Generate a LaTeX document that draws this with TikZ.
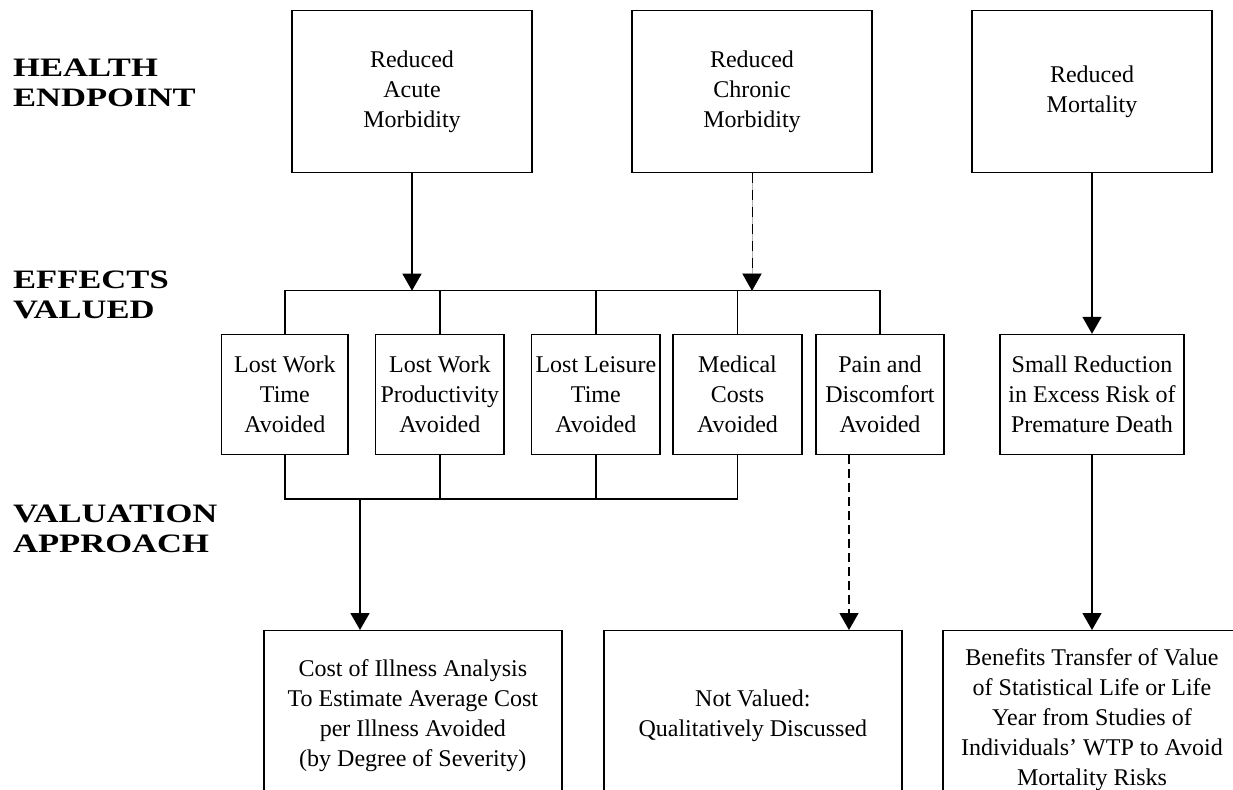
\documentclass[tikz,border=0pt]{standalone}
\usepackage{fontspec}
\setmainfont{Liberation Serif}
\usetikzlibrary{arrows.meta}
\begin{document}
\begin{tikzpicture}[x=0.5pt,y=-0.5pt,
  box/.style={draw, line width=0.7pt, inner sep=0pt, align=center, font=\fontsize{12}{15}\selectfont},
  topbox/.style={box, minimum width=120pt, minimum height=81pt},
  effbox/.style={box, minimum height=60.1pt},
  valbox/.style={box, minimum width=149pt, minimum height=85pt},
  lbl/.style={anchor=base west, inner sep=0pt, font=\fontsize{13.3}{15}\selectfont\bfseries},
  conn/.style={line width=0.7pt},
  arr/.style={conn, -{Triangle[length=8.5pt,width=9.5pt]}},
  darr/.style={arr, dash pattern=on 4.5pt off 2.5pt},
  farr/.style={line width=0.45pt, -{Triangle[length=8.5pt,width=9.5pt]}, dash pattern=on 5pt off 3.5pt,
               preaction={draw=black!30, solid, line width=0.45pt}}
]
\useasboundingbox (0,0) rectangle (1233,789);
\clip (0,0) rectangle (1233,789);
\fill[white] (0,0) rectangle (1233,789);

% row labels
\node[lbl] (lh) at (12.7,76.7) {\scalebox{1.3}[1]{\begin{tabular}[t]{@{}l@{}}HEALTH\\ENDPOINT\end{tabular}}};
\node[lbl] (le) at (12.7,288.3) {\scalebox{1.3}[1]{\begin{tabular}[t]{@{}l@{}}EFFECTS\\VALUED\end{tabular}}};
\node[lbl] (lv) at (12.7,522.7) {\scalebox{1.3}[1]{\begin{tabular}[t]{@{}l@{}}VALUATION\\APPROACH\end{tabular}}};

% health endpoints
\node[topbox] (acute)   at (412,91.7)  {Reduced\\Acute\\Morbidity};
\node[topbox] (chronic) at (752,91.7)  {Reduced\\Chronic\\Morbidity};
\node[topbox] (mort)    at (1092,91.7) {Reduced\\Mortality};

% effects valued
\node[effbox, minimum width=63.15pt] (lwt)  at (284.85,394.6) {Lost Work\\Time\\Avoided};
\node[effbox, minimum width=64.15pt] (prod) at (439.85,394.6) {Lost Work\\Productivity\\Avoided};
\node[effbox, minimum width=64.15pt] (leis) at (595.85,394.6) {Lost Leisure\\Time\\Avoided};
\node[effbox, minimum width=64.5pt]  (med)  at (737.5,394.6)  {Medical\\Costs\\Avoided};
\node[effbox, minimum width=64pt]    (pain) at (880,394.6)    {Pain and\\Discomfort\\Avoided};
\node[effbox, minimum width=92pt]    (small) at (1092,394.6)  {Small Reduction\\in Excess Risk of\\Premature Death};

% valuation approach
\node[valbox] (coi) at (412.85,715.7) {Cost of Illness Analysis\\To Estimate Average Cost\\per Illness Avoided\\(by Degree of Severity)};
\node[valbox] (nv)  at (752.85,715.7) {Not Valued:\\Qualitatively Discussed};
\node[valbox, minimum height=89pt] (bt) at (1092,719.7) {Benefits Transfer of Value\\of Statistical Life or Life\\Year from Studies of\\Individuals’ WTP to Avoid\\Mortality Risks};

% bars
\coordinate (tbar) at (0,290.7);
\coordinate (bbar) at (0,499);
\coordinate (cj) at (360,499);
\coordinate (pj) at (849,0);

\draw[conn] (lwt.north) -- (lwt.north |- tbar) -- (pain.north |- tbar) -- (pain.north);
\foreach \n in {prod,leis,med} \draw[conn] (\n.north |- tbar) -- (\n.north);
\draw[conn] (lwt.south) -- (lwt.south |- bbar) -- (med.south |- bbar) -- (med.south);
\foreach \n in {prod,leis} \draw[conn] (\n.south) -- (\n.south |- bbar);

% arrows
\draw[arr] (acute.south) -- (acute.south |- tbar);
\draw[farr] (chronic.south) -- (chronic.south |- tbar);
\draw[arr] (mort.south) -- (small.north);
\draw[arr] (cj) -- (cj |- coi.north);
\draw[darr] (pj |- pain.south) -- (pj |- nv.north);
\draw[arr] (small.south) -- (bt.north);
\end{tikzpicture}
\end{document}
